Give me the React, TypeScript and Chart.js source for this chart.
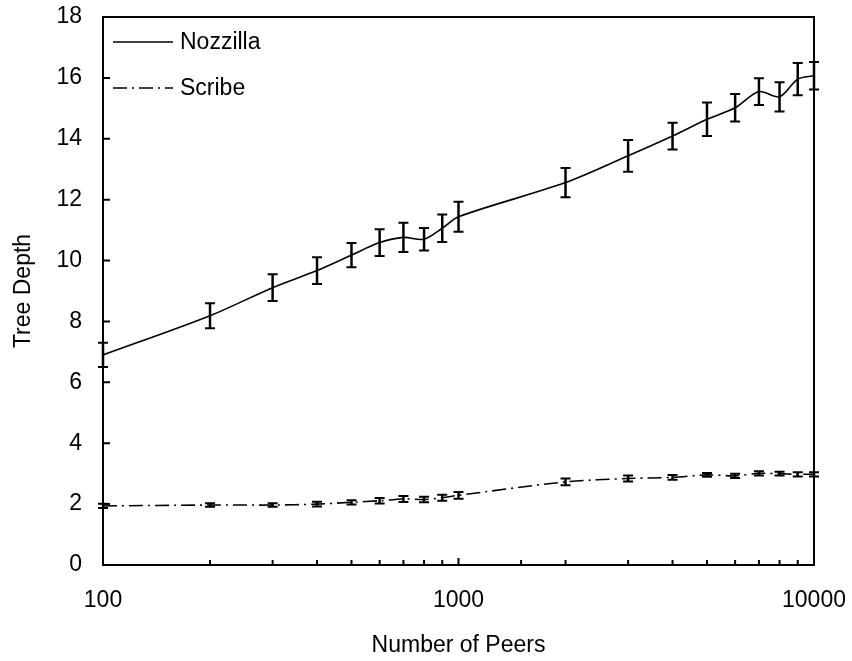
import React, { useEffect, useRef } from 'react';
import { Chart, registerables } from 'chart.js';

Chart.register(...registerables);

const peers = [100, 200, 300, 400, 500, 600, 700, 800, 900, 1000, 2000, 3000, 4000, 5000, 6000, 7000, 8000, 9000, 10000];
const nozzilla = [6.9, 8.19, 9.11, 9.67, 10.18, 10.59, 10.76, 10.7, 11.06, 11.44, 12.56, 13.44, 14.09, 14.64, 15.02, 15.55, 15.38, 15.96, 16.07];
const nozzillaErr = [0.4, 0.41, 0.44, 0.44, 0.4, 0.44, 0.48, 0.37, 0.45, 0.49, 0.48, 0.52, 0.44, 0.55, 0.45, 0.44, 0.48, 0.53, 0.45];
const scribe = [1.94, 1.97, 1.97, 2.0, 2.06, 2.11, 2.17, 2.15, 2.21, 2.29, 2.73, 2.84, 2.88, 2.96, 2.93, 3.01, 3.0, 2.98, 2.98];
const scribeErr = [0.07, 0.06, 0.06, 0.08, 0.07, 0.09, 0.1, 0.09, 0.1, 0.11, 0.11, 0.1, 0.08, 0.06, 0.07, 0.07, 0.06, 0.07, 0.07];
const xLabels = [100, 1000, 10000];
const seriesNames = ['Nozzilla', 'Scribe'];
const xTitle = 'Number of Peers';
const yTitle = 'Tree Depth';

const FONT = '"Liberation Sans", Arial, sans-serif';
const FS = 23;
const DASH = [14, 5, 2, 5];

export default function App() {
  const ref = useRef<HTMLCanvasElement | null>(null);

  useEffect(() => {
    const canvas = ref.current;
    if (!canvas) return;

    const errs = [nozzillaErr, scribeErr];

    const errorBars = {
      id: 'errorBars',
      afterDatasetsDraw(chart: any) {
        const ctx = chart.ctx;
        const ys = chart.scales.y;
        ctx.save();
        ctx.strokeStyle = '#000';
        chart.data.datasets.forEach((ds: any, di: number) => {
          const meta = chart.getDatasetMeta(di);
          meta.data.forEach((pt: any, i: number) => {
            const v = ds.data[i].y;
            const e = errs[di][i];
            const x = pt.x;
            const yt = ys.getPixelForValue(v + e);
            const yb = ys.getPixelForValue(v - e);
            ctx.lineWidth = 2.5;
            ctx.beginPath();
            ctx.moveTo(x, yt);
            ctx.lineTo(x, yb);
            ctx.stroke();
            ctx.lineWidth = 2;
            ctx.beginPath();
            ctx.moveTo(x - 5, yt);
            ctx.lineTo(x + 5, yt);
            ctx.moveTo(x - 5, yb);
            ctx.lineTo(x + 5, yb);
            ctx.stroke();
          });
        });
        ctx.restore();
      },
    };

    const frame = {
      id: 'frame',
      afterDraw(chart: any) {
        const ctx = chart.ctx;
        const a = chart.chartArea;
        const xs = chart.scales.x;
        const ys = chart.scales.y;
        ctx.save();
        ctx.strokeStyle = '#000';
        ctx.lineWidth = 2;
        ctx.strokeRect(a.left, a.top, a.right - a.left, a.bottom - a.top);
        ctx.beginPath();
        ys.ticks.forEach((t: any) => {
          const y = ys.getPixelForValue(t.value);
          ctx.moveTo(a.left, y);
          ctx.lineTo(a.left + 7, y);
        });
        xs.ticks.forEach((t: any) => {
          const x = xs.getPixelForValue(t.value);
          const major = xLabels.includes(t.value);
          ctx.moveTo(x, a.bottom);
          ctx.lineTo(x, a.bottom - (major ? 7 : 5));
        });
        ctx.stroke();

        // legend
        const lx0 = a.left + 10;
        const lx1 = a.left + 70;
        const rows = [a.top + 25, a.top + 71];
        ctx.lineWidth = 1.5;
        rows.forEach((y, i) => {
          ctx.setLineDash(i === 0 ? [] : DASH);
          ctx.beginPath();
          ctx.moveTo(lx0, y);
          ctx.lineTo(lx1, y);
          ctx.stroke();
        });
        ctx.setLineDash([]);
        ctx.fillStyle = '#000';
        ctx.font = `${FS}px ${FONT}`;
        ctx.textAlign = 'left';
        ctx.textBaseline = 'middle';
        rows.forEach((y, i) => ctx.fillText(seriesNames[i], lx1 + 7, y + 1));
        ctx.restore();
      },
    };

    const chart = new Chart(canvas, {
      type: 'line',
      data: {
        datasets: [
          {
            label: seriesNames[0],
            data: peers.map((p, i) => ({ x: p, y: nozzilla[i] })),
            borderColor: '#000',
            borderWidth: 1.6,
            pointRadius: 0,
            tension: 0.3,
            fill: false,
          },
          {
            label: seriesNames[1],
            data: peers.map((p, i) => ({ x: p, y: scribe[i] })),
            borderColor: '#000',
            borderWidth: 1.6,
            borderDash: DASH,
            pointRadius: 0,
            tension: 0.3,
            fill: false,
          },
        ],
      },
      options: {
        animation: false,
        responsive: false,
        devicePixelRatio: 1,
        layout: { padding: { left: 0, right: 38, top: 17, bottom: 0 } },
        plugins: { legend: { display: false }, tooltip: { enabled: false } },
        scales: {
          x: {
            type: 'logarithmic',
            min: 100,
            max: 10000,
            grid: { display: false, drawTicks: false },
            border: { display: false },
            ticks: {
              autoSkip: false,
              maxRotation: 0,
              padding: 22,
              color: '#000',
              font: { family: FONT, size: FS },
              callback: (v: any) => (xLabels.includes(Number(v)) ? String(v) : ''),
            },
            title: {
              display: true,
              text: xTitle,
              color: '#000',
              font: { family: FONT, size: FS },
              padding: { top: 0, bottom: 2 },
            },
            afterFit: (s: any) => {
              s.height = 96;
              s.paddingLeft = 0;
              s.paddingRight = 0;
              s.paddingTop = 0;
              s.paddingBottom = 0;
            },
          },
          y: {
            min: 0,
            max: 18,
            grid: { display: false, drawTicks: false },
            border: { display: false },
            ticks: {
              stepSize: 2,
              padding: 21,
              color: '#000',
              font: { family: FONT, size: FS },
            },
            title: {
              display: true,
              text: yTitle,
              color: '#000',
              font: { family: FONT, size: FS },
              padding: { top: 10, bottom: 0 },
            },
            afterFit: (s: any) => {
              s.width = 103;
              s.paddingLeft = 0;
              s.paddingRight = 0;
              s.paddingTop = 0;
              s.paddingBottom = 0;
            },
          },
        },
      },
      plugins: [errorBars, frame],
    });

    return () => chart.destroy();
  }, []);

  return (
    <div style={{ position: 'absolute', left: 0, top: 0, width: 852, height: 661, background: '#fff' }}>
      <canvas ref={ref} width={852} height={661} style={{ display: 'block' }} />
    </div>
  );
}
